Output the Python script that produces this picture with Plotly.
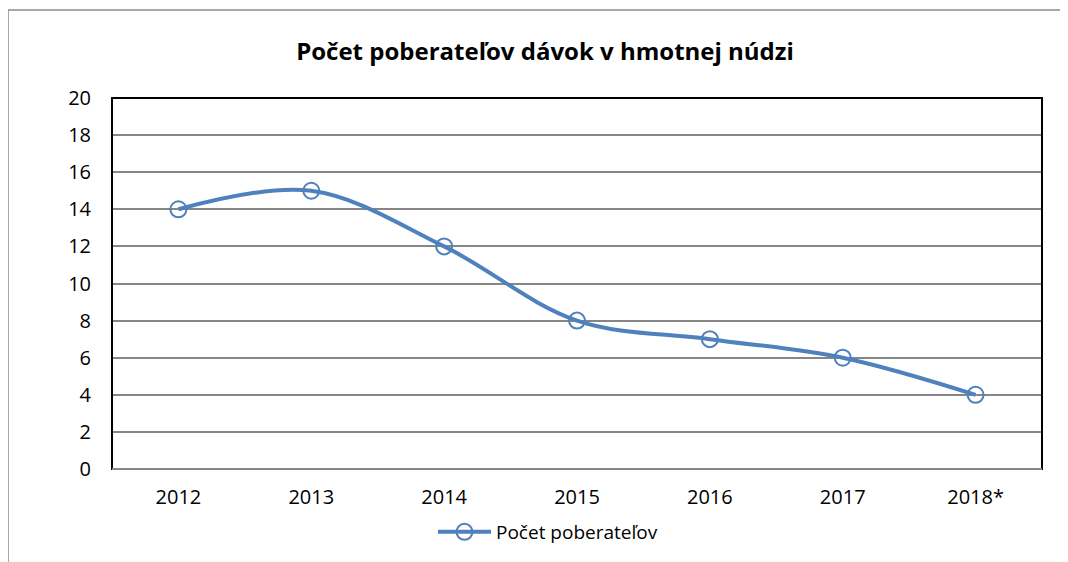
import plotly.graph_objects as go

years = ["2012", "2013", "2014", "2015", "2016", "2017", "2018*"]
values = [14, 15, 12, 8, 7, 6, 4]
series_name = "Počet poberateľov"
title_text = "Počet poberateľov dávok v hmotnej núdzi"
y_ticks = [0, 2, 4, 6, 8, 10, 12, 14, 16, 18, 20]

OFF = 8  # page body margin
W, H = 1068 - OFF, 562 - OFF
L, R, T, B = 112 - OFF, 1042 - OFF, 98 - OFF, 469 - OFF

BLUE = "#4F81BD"
FONT = "Open Sans"

fig = go.Figure()
fig.add_trace(go.Scatter(
    x=years, y=values, name=series_name, mode="lines+markers",
    line=dict(color=BLUE, width=4, shape="spline", smoothing=1.0),
    marker=dict(symbol="circle-open", size=16, color=BLUE, line=dict(width=2, color=BLUE)),
    showlegend=True,
))

pw, ph = R - L, B - T
def px(x):
    return (x - OFF - L) / pw
def py(y):
    return (B - (y - OFF)) / ph

shapes = [
    dict(type="rect", xref="paper", yref="paper", x0=px(8), x1=px(1080), y0=py(580), y1=py(10),
         line=dict(color="#8C8C8C", width=1.5), layer="below"),
    dict(type="rect", xref="paper", yref="paper", x0=0, x1=1, y0=0, y1=1,
         line=dict(color="black", width=2), layer="above"),
    dict(type="line", xref="paper", yref="paper", x0=0, x1=1, y0=0, y1=0,
         line=dict(color="#868686", width=2), layer="above"),
]

fig.update_layout(
    width=W, height=H,
    margin=dict(l=L, r=W - R, t=T, b=H - B, autoexpand=False),
    paper_bgcolor="white", plot_bgcolor="white",
    font=dict(family=FONT, size=20, color="black"),
    title=dict(text="<b>" + title_text + "</b>", x=(545 - OFF) / W, xanchor="center",
               y=1 - (52 - OFF) / H, yanchor="middle", font=dict(family=FONT, size=24, color="black")),
    xaxis=dict(type="category", range=[-0.5, 6.5], showgrid=False, showline=False, automargin=False,
               ticks="", tickfont=dict(size=20), ticklabelstandoff=14, fixedrange=True),
    yaxis=dict(range=[0, 20], tickvals=y_ticks, showgrid=True, gridcolor="#868686", gridwidth=1.5,
               automargin=False, zeroline=False, showline=False, ticks="", tickfont=dict(size=20),
               ticklabelstandoff=20),
    legend=dict(orientation="h", x=(548 - OFF) / W, xanchor="center", xref="container",
                y=1 - (532 - OFF) / H, yref="container", yanchor="middle", itemwidth=53,
                font=dict(size=19), bgcolor="rgba(0,0,0,0)"),
    shapes=shapes,
)

fig.write_html("out.html")
